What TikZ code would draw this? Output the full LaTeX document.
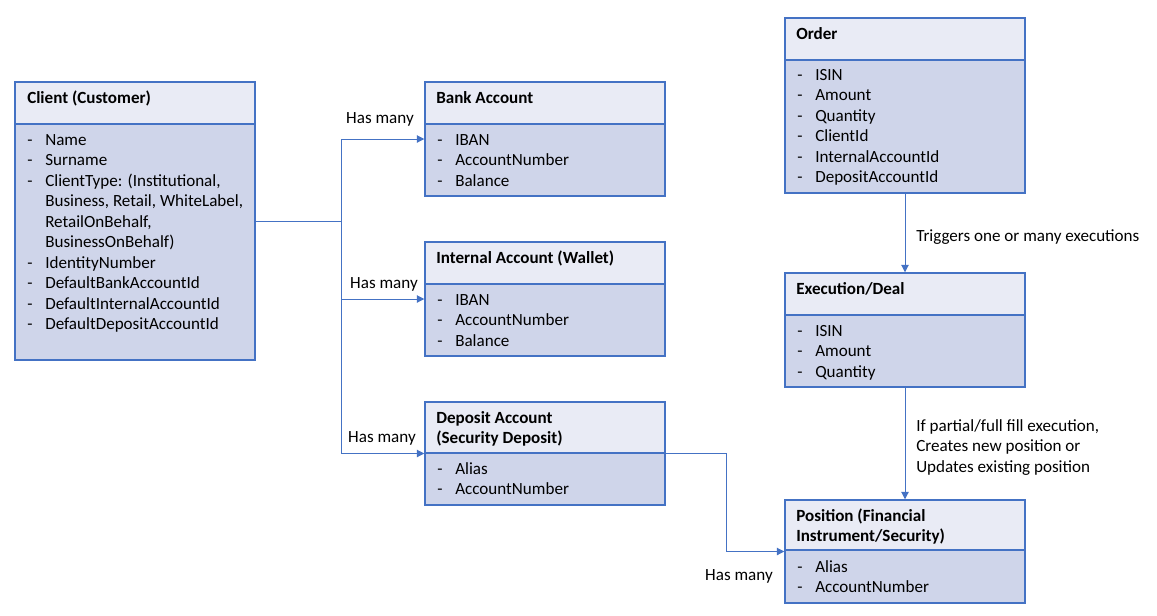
\documentclass[tikz,border=0pt]{standalone}
\usepackage{fontspec}
\setmainfont{Carlito}
\usetikzlibrary{arrows.meta}
\definecolor{bd}{HTML}{4472C4}
\definecolor{hdfill}{HTML}{E9EBF5}
\definecolor{bdfill}{HTML}{CFD5EA}
\newcommand\itm{\makebox[13.5pt][l]{-}}
\newcommand\cnt{\hspace*{13.5pt}}
\tikzset{
  box/.style={draw=bd, line width=1.1pt, fill=bdfill, minimum width=180pt, inner sep=0pt, rectangle},
  hdr/.style={draw=bd, line width=1.1pt, fill=hdfill, minimum width=180pt, inner sep=0pt, rectangle, anchor=north},
  txt/.style={inner sep=0pt, anchor=base west, font=\fontsize{12.8}{15.4}\selectfont},
  ttl/.style={txt, font=\fontsize{12.8}{15.4}\selectfont\bfseries},
  conn/.style={draw=bd, line width=0.75pt, -{Triangle[length=5.5pt,width=5.5pt]}},
  lbl/.style={inner sep=0pt, font=\fontsize{12.8}{15.4}\selectfont}
}
\begin{document}
\begin{tikzpicture}[x=0.75pt,y=-0.75pt]
\useasboundingbox (0,0) rectangle (1157,615);
% Client
\node[box, minimum height=208.5pt] (client) at (135,221) {};
\node[hdr, minimum height=31.5pt] (clientH) at (client.north) {};
\node[ttl] (clientT) at (27,103) {Client (Customer)};
\node[txt] (clientL) at (27,145) {\begin{tabular}[t]{@{}l@{}}
\itm Name\\ \itm Surname\\ \itm ClientType: (Institutional,\\ \cnt Business, Retail, WhiteLabel,\\ \cnt RetailOnBehalf,\\ \cnt BusinessOnBehalf)\\ \itm IdentityNumber\\ \itm DefaultBankAccountId\\ \itm DefaultInternalAccountId\\ \itm DefaultDepositAccountId
\end{tabular}};
% Bank
\node[box, minimum height=85.5pt] (bank) at (545,139) {};
\node[hdr, minimum height=31.5pt] (bankH) at (bank.north) {};
\node[ttl] (bankT) at (436,103) {Bank Account};
\node[txt] (bankL) at (437,145) {\begin{tabular}[t]{@{}l@{}}
\itm IBAN\\ \itm AccountNumber\\ \itm Balance
\end{tabular}};
% Internal
\node[box, minimum height=85.5pt] (internal) at (545,299) {};
\node[hdr, minimum height=31.5pt] (internalH) at (internal.north) {};
\node[ttl] (internalT) at (436,263) {Internal Account (Wallet)};
\node[txt] (internalL) at (437,305) {\begin{tabular}[t]{@{}l@{}}
\itm IBAN\\ \itm AccountNumber\\ \itm Balance
\end{tabular}};
% Deposit
\node[box, minimum height=77.25pt] (deposit) at (545,453.5) {};
\node[hdr, minimum height=38.25pt] (depositH) at (deposit.north) {};
\node[ttl] (depositT) at (436,423) {\begin{tabular}[t]{@{}l@{}}Deposit Account\\ (Security Deposit)\end{tabular}};
\node[txt] (depositL) at (437,474) {\begin{tabular}[t]{@{}l@{}}
\itm Alias\\ \itm AccountNumber
\end{tabular}};
% Order
\node[box, minimum height=131.25pt] (order) at (905,105.5) {};
\node[hdr, minimum height=31.5pt] (orderH) at (order.north) {};
\node[ttl] (orderT) at (796,39) {Order};
\node[txt] (orderL) at (797,80) {\begin{tabular}[t]{@{}l@{}}
\itm ISIN\\ \itm Amount\\ \itm Quantity\\ \itm ClientId\\ \itm InternalAccountId\\ \itm DepositAccountId
\end{tabular}};
% Execution
\node[box, minimum height=85.5pt] (exec) at (905,330) {};
\node[hdr, minimum height=31.5pt] (execH) at (exec.north) {};
\node[ttl] (execT) at (796,294) {Execution/Deal};
\node[txt] (execL) at (797,336) {\begin{tabular}[t]{@{}l@{}}
\itm ISIN\\ \itm Amount\\ \itm Quantity
\end{tabular}};
% Position
\node[box, minimum height=77.25pt] (position) at (905,551.5) {};
\node[hdr, minimum height=37.5pt] (positionH) at (position.north) {};
\node[ttl] (positionT) at (796,521) {\begin{tabular}[t]{@{}l@{}}Position (Financial\\ Instrument/Security)\end{tabular}};
\node[txt] (positionL) at (797,572) {\begin{tabular}[t]{@{}l@{}}
\itm Alias\\ \itm AccountNumber
\end{tabular}};
% connectors
\coordinate (j) at (341,221);
\draw[draw=bd, line width=0.75pt] (client.east) -- (j);
\draw[conn] (j) |- (bank.west);
\draw[conn] (j) |- (internal.west);
\draw[conn] (j) |- (deposit.west);
\coordinate (k) at (726,453.5);
\draw[conn] (deposit.east) -- (k) |- (position.west);
\draw[conn] (order.south) -- (exec.north);
\draw[conn] (exec.south) -- (positionH.north);
% labels
\node[lbl, anchor=base east] (l1) at (414,123) {Has many};
\node[lbl, anchor=base east] (l2) at (418,288) {Has many};
\node[lbl, anchor=base east] (l3) at (416,442) {Has many};
\node[lbl, anchor=base east] (l4) at (773,580) {Has many};
\node[txt] (l5) at (916,241) {Triggers one or many executions};
\node[txt] (l6) at (916,431) {\begin{tabular}[t]{@{}l@{}}If partial/full fill execution,\\ Creates new position or\\ Updates existing position\end{tabular}};
\end{tikzpicture}
\end{document}
